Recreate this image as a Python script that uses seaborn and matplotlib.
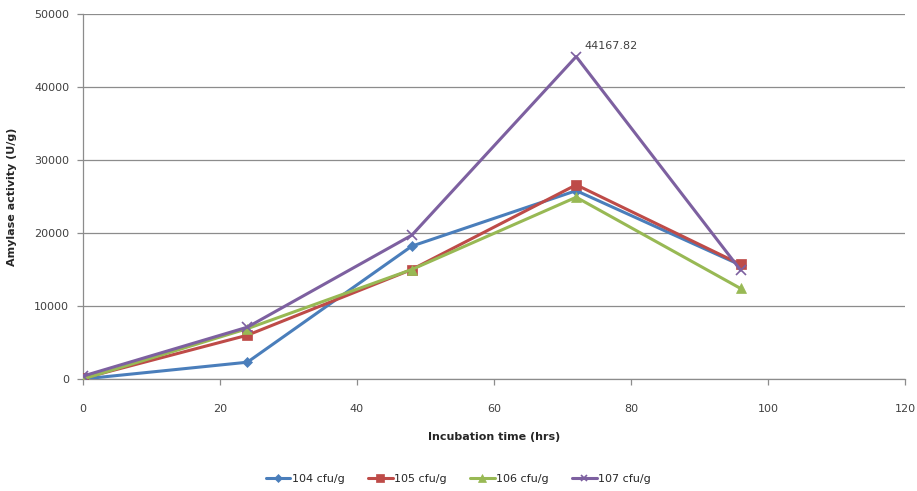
import matplotlib
matplotlib.use("Agg")
import matplotlib.pyplot as plt
import seaborn as sns
import pandas as pd

# Incubation times (hrs) and amylase activity (U/g) per inoculum level
hours = [0, 24, 48, 72, 96]
act_104 = [0, 2300, 18200, 25800, 15600]
act_105 = [100, 6000, 15000, 26600, 15700]
act_106 = [0, 6900, 15000, 24900, 12400]
act_107 = [400, 7100, 19700, 44167.82, 14900]
series_names = ["104 cfu/g", "105 cfu/g", "106 cfu/g", "107 cfu/g"]
peak_label = "44167.82"

colors = ["#4A7EBB", "#BE4B48", "#98B954", "#7D60A0"]
markers = ["D", "s", "^", "x"]
msizes = [5.5, 7.5, 7.5, 7]

rows = []
for name, vals in zip(series_names, [act_104, act_105, act_106, act_107]):
    for h, v in zip(hours, vals):
        rows.append({"time": h, "activity": v, "series": name})
df = pd.DataFrame(rows)

sns.set_style("white")
plt.rcParams["font.family"] = ["DejaVu Sans"]

fig = plt.figure(figsize=(9.17, 4.91), dpi=100)
ax = fig.add_axes([83 / 917, 1 - 379 / 491, (905 - 83) / 917, (379 - 14) / 491])

for name, c, m, ms in zip(series_names, colors, markers, msizes):
    sub = df[df["series"] == name]
    sns.lineplot(data=sub, x="time", y="activity", ax=ax, color=c, marker=m,
                 markersize=ms, markeredgecolor=c,
                 markeredgewidth=1.2 if m == "x" else 0.5,
                 linewidth=2.2, label=name, zorder=3)

ax.annotate(peak_label, xy=(72, act_107[3]), xytext=(6, 4), textcoords="offset points",
            fontsize=8, color="#404040", ha="left", va="bottom")

ax.set_xlim(0, 120)
ax.set_ylim(0, 50000)
ax.set_xticks(range(0, 121, 20))
ax.set_yticks(range(0, 50001, 10000))
ax.yaxis.grid(True, color="#8C8C8C", linewidth=0.9)
ax.xaxis.grid(False)
for s in ["top", "right"]:
    ax.spines[s].set_visible(False)
for s in ["left", "bottom"]:
    ax.spines[s].set_color("#8C8C8C")
    ax.spines[s].set_linewidth(0.9)
ax.tick_params(axis="both", which="both", direction="out", length=4, width=0.9,
               color="#8C8C8C", labelsize=8, labelcolor="#404040", left=True, bottom=True)
ax.tick_params(axis="x", pad=14)
ax.tick_params(axis="y", pad=6)

ax.set_xlabel("Incubation time (hrs)", fontsize=8, fontweight="bold", labelpad=13)
ax.set_ylabel("Amylase activity (U/g)", fontsize=8, fontweight="bold", labelpad=12)

ax.legend(loc="lower center", bbox_to_anchor=(0.5, -0.006), bbox_transform=fig.transFigure,
          ncol=4, frameon=False, fontsize=8, handlelength=2.2, columnspacing=2.1,
          handletextpad=0.15, markerscale=0.7)

fig.savefig("out.png", dpi=100)
